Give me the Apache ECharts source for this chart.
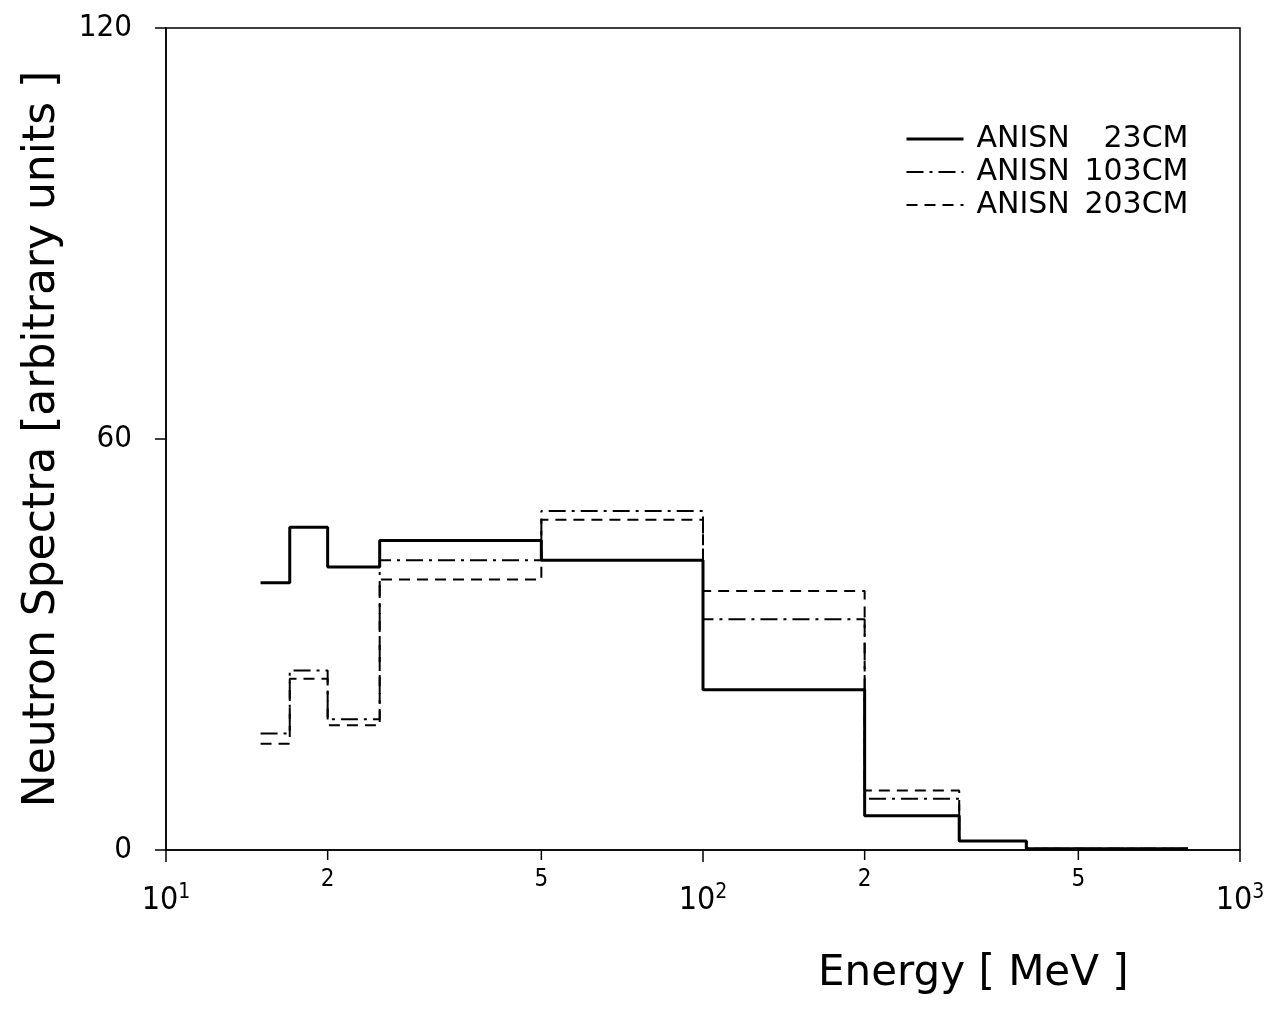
<!DOCTYPE html>
<html>
<head>
<meta charset="utf-8">
<script src="https://cdn.jsdelivr.net/npm/echarts@6/dist/echarts.min.js"></script>
<style>
html,body{margin:0;padding:0;background:#fff;}
#chart{width:1282px;height:1010px;}
</style>
</head>
<body>
<div id="chart"></div>
<script>
// Bin edges (MeV) and spectra values (arbitrary units)
const edges = [15, 17, 20, 25, 50, 100, 200, 300, 400, 800];
const anisn23 = [39.0, 47.1, 41.3, 45.2, 42.3, 23.4, 5.0, 1.3, 0.2];
const anisn103 = [17.0, 26.2, 19.1, 42.3, 49.5, 33.7, 7.5, 1.3, 0.2];
const anisn203 = [15.5, 25.0, 18.2, 39.5, 48.2, 37.8, 8.7, 1.3, 0.2];
const seriesNames = ['ANISN 23CM', 'ANISN 103CM', 'ANISN 203CM'];
const minorTickValues = [20, 50, 200, 500];
const minorTickLabels = ['2', '5', '2', '5'];

const FONT = 'DejaVu Sans';
const NARROW = '"Liberation Sans Narrow", "DejaVu Sans Condensed", "DejaVu Sans"';

const lineWidths = [3, 2, 2];
const lineTypes = ['solid', [17, 6, 3, 6], [11, 7]];

function stepData(vals) {
  return edges.map((e, i) => [e, vals[Math.min(i, vals.length - 1)]]);
}

const chart = echarts.init(document.getElementById('chart'), null, {renderer: 'canvas'});

const option = {
  backgroundColor: '#fff',
  animation: false,
  grid: {
    left: 166, right: 42, top: 28, bottom: 160,
    show: true, borderColor: '#000', borderWidth: 1.5, backgroundColor: 'transparent'
  },
  legend: {
    data: seriesNames.map((n, i) => ({name: n, lineStyle: {width: lineWidths[i], type: lineTypes[i], color: '#000'}})),
    orient: 'vertical',
    left: 900, top: 119,
    itemWidth: 57, itemHeight: 14, itemGap: 3,
    itemStyle: {opacity: 0},
    formatter: function (name) {
      const parts = name.split(' ');
      return '{a|' + parts[0] + '}{b|' + parts[1] + '}';
    },
    textStyle: {
      fontFamily: FONT, fontSize: 30, color: '#000',
      rich: {
        a: {fontFamily: FONT, fontSize: 30, width: 102, lineHeight: 33, color: '#000', padding: [0,0,0,8]},
        b: {fontFamily: FONT, fontSize: 30, width: 110, align: 'right', lineHeight: 33, color: '#000'}
      }
    }
  },
  xAxis: {
    type: 'log', logBase: 10, min: 10, max: 1000,
    axisLine: {show: true, lineStyle: {color: '#000', width: 1.5}},
    axisTick: {show: true, inside: false, length: 12, lineStyle: {color: '#000', width: 1.5}},
    splitLine: {show: false},
    axisLabel: {
      margin: 32,
      color: '#000', fontFamily: NARROW, fontSize: 32,
      formatter: function (v) {
        return '{m|10}{s|' + Math.round(Math.log10(v)) + '}';
      },
      rich: {
        m: {fontFamily: NARROW, fontSize: 32, color: '#000'},
        s: {fontFamily: NARROW, fontSize: 21, color: '#000', verticalAlign: 'top', padding: [0, 0, 16, 0]}
      }
    }
  },
  yAxis: {
    type: 'value', min: 0, max: 120, interval: 60,
    name: 'Neutron Spectra [arbitrary units ]',
    nameLocation: 'middle', nameGap: 101, nameRotate: 90,
    nameTextStyle: {fontFamily: FONT, fontSize: 44, color: '#000'},
    axisLine: {show: true, lineStyle: {color: '#000', width: 1.5}},
    axisTick: {show: true, inside: false, length: 11, lineStyle: {color: '#000', width: 1.5}},
    splitLine: {show: false},
    axisLabel: {margin: 34, color: '#000', fontFamily: NARROW, fontSize: 31}
  },
  graphic: [{
    type: 'text', left: 818, top: 953,
    style: {text: 'Energy [ MeV ]', fontFamily: FONT, fontSize: 42, fill: '#000'}
  }],
  series: [
    {
      name: seriesNames[0], type: 'line', step: 'end', symbol: 'none',
      data: stepData(anisn23),
      lineStyle: {color: '#000', width: lineWidths[0], type: lineTypes[0]},
      itemStyle: {color: '#000'}, z: 5
    },
    {
      name: seriesNames[1], type: 'line', step: 'end', symbol: 'none',
      data: stepData(anisn103),
      lineStyle: {color: '#000', width: lineWidths[1], type: lineTypes[1]},
      itemStyle: {color: '#000'}, z: 4
    },
    {
      name: seriesNames[2], type: 'line', step: 'end', symbol: 'none',
      data: stepData(anisn203),
      lineStyle: {color: '#000', width: lineWidths[2], type: lineTypes[2]},
      itemStyle: {color: '#000'}, z: 3
    },
    {
      name: 'minorTicks', type: 'custom', silent: true, clip: false,
      data: minorTickValues.map(v => [v, 0]),
      renderItem: function (params, api) {
        const p = api.coord([api.value(0), 0]);
        return {
          type: 'group',
          children: [
            {type: 'line', shape: {x1: p[0], y1: p[1], x2: p[0], y2: p[1] + 10},
             style: {stroke: '#000', lineWidth: 1.5}},
            {type: 'text', style: {text: minorTickLabels[params.dataIndex], x: p[0], y: p[1] + 18,
             align: 'center', verticalAlign: 'top', fontFamily: NARROW, fontSize: 24, fill: '#000'}}
          ]
        };
      },
      z: 6
    }
  ]
};
chart.setOption(option);
</script>
</body>
</html>
